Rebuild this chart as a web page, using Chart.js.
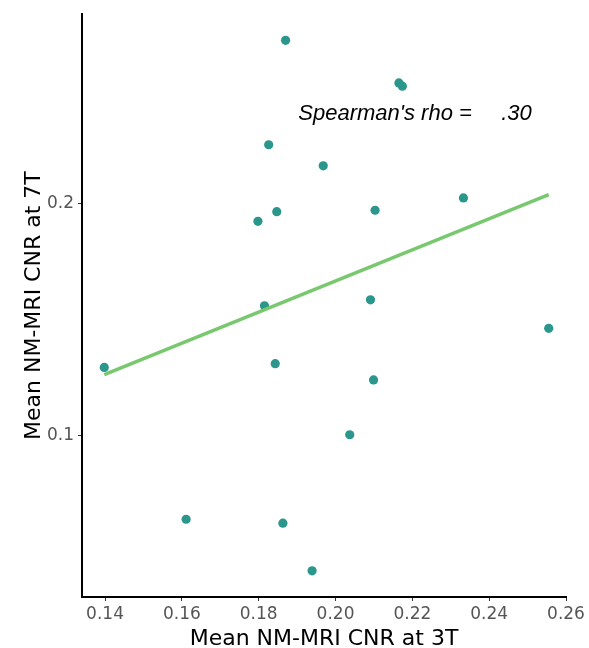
<!DOCTYPE html>
<html>
<head>
<meta charset="utf-8">
<script src="https://cdn.jsdelivr.net/npm/chart.js@4.4.1/dist/chart.umd.min.js"></script>
<style>
  html, body { margin: 0; padding: 0; background: #fff; }
  canvas { display: block; }
</style>
</head>
<body>
<canvas id="chart" width="589" height="648"></canvas>
<script>
// CNR values
var cnr3T = [0.1870, 0.2165, 0.2174, 0.1826, 0.1968, 0.2333, 0.1798, 0.1847, 0.2103, 0.1815,
             0.2091, 0.1398, 0.1843, 0.2099, 0.2555, 0.2037, 0.1611, 0.1863, 0.1939];
var cnr7T = [0.2707, 0.2523, 0.2509, 0.2256, 0.2165, 0.2026, 0.1925, 0.1967, 0.1973, 0.1560,
             0.1586, 0.1294, 0.1310, 0.1240, 0.1463, 0.1003, 0.0638, 0.0621, 0.0415];

// fitted line end points
var fitX = [0.1398, 0.2555];
var fitY = [0.1263, 0.2040];

// tick labels
var xTicks = [0.14, 0.16, 0.18, 0.20, 0.22, 0.24, 0.26];
var yTicks = [0.1, 0.2];

var rhoLabel = "Spearman's rho =";
var rhoValue = ".30";

var points = cnr3T.map(function (x, i) { return { x: x, y: cnr7T[i] }; });
var fitPoints = fitX.map(function (x, i) { return { x: x, y: fitY[i] }; });

// Draw the correlation text inside the plot
var rhoText = {
    id: 'rhoText',
    afterDatasetsDraw: function (chart) {
        var ctx = chart.ctx;
        var xs = chart.scales.x, ys = chart.scales.y;
        var base = ys.getPixelForValue(0.2364);
        ctx.save();
        ctx.fillStyle = '#000';
        ctx.font = 'italic 22px "Liberation Sans", Arial, sans-serif';
        ctx.textBaseline = 'alphabetic';
        ctx.textAlign = 'left';
        ctx.fillText(rhoLabel, xs.getPixelForValue(0.1903), base);
        ctx.textAlign = 'right';
        ctx.fillText(rhoValue, xs.getPixelForValue(0.2511), base);
        ctx.restore();
    }
};

var tickFont = { family: '"DejaVu Sans", sans-serif', size: 17 };
var titleFont = { family: '"DejaVu Sans", sans-serif', size: 22, lineHeight: 1 };

new Chart(document.getElementById('chart').getContext('2d'), {
    type: 'scatter',
    data: {
        datasets: [{
            type: 'line',
            data: fitPoints,
            borderColor: '#78c86e',
            borderWidth: 3.5,
            pointRadius: 0,
            fill: false,
            order: 0
        }, {
            data: points,
            backgroundColor: '#2a968c',
            borderWidth: 0,
            pointRadius: 4.6,
            order: 1
        }]
    },
    options: {
        responsive: false,
        animation: false,
        layout: { padding: { left: 0, top: 13, right: 23, bottom: 0 } },
        plugins: { legend: { display: false }, tooltip: { enabled: false } },
        scales: {
            x: {
                type: 'linear',
                min: 0.134,
                max: 0.26,
                afterBuildTicks: function (axis) {
                    axis.ticks = xTicks.map(function (v) { return { value: v }; });
                },
                afterFit: function (axis) { axis.height = 51; },
                ticks: {
                    color: '#555',
                    font: tickFont,
                    padding: 3,
                    maxRotation: 0,
                    callback: function (v) { return v.toFixed(2); }
                },
                grid: { drawOnChartArea: false, drawTicks: true, tickLength: 4, color: '#333' },
                border: { display: true, color: '#000', width: 2 },
                title: {
                    display: true,
                    text: 'Mean NM-MRI CNR at 3T',
                    color: '#000',
                    font: titleFont,
                    padding: { top: 0, bottom: -2 }
                }
            },
            y: {
                type: 'linear',
                min: 0.0302,
                max: 0.282,
                afterBuildTicks: function (axis) {
                    axis.ticks = yTicks.map(function (v) { return { value: v }; });
                },
                afterFit: function (axis) { axis.width = 82; },
                ticks: {
                    color: '#555',
                    font: tickFont,
                    padding: 4,
                    callback: function (v) { return v.toFixed(1); }
                },
                grid: { drawOnChartArea: false, drawTicks: true, tickLength: 4, color: '#333' },
                border: { display: true, color: '#000', width: 2 },
                title: {
                    display: true,
                    text: 'Mean NM-MRI CNR at 7T',
                    color: '#000',
                    font: titleFont,
                    padding: { top: 23, bottom: 0 }
                }
            }
        }
    },
    plugins: [rhoText]
});
</script>
</body>
</html>
